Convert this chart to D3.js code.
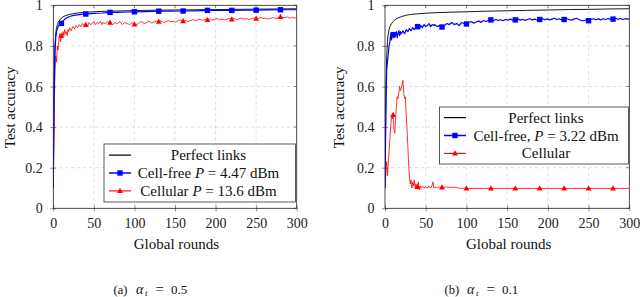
<!DOCTYPE html>
<html><head><meta charset="utf-8">
<script src="https://cdn.jsdelivr.net/npm/d3@7"></script>
<style>body{margin:0;background:#fff}svg{display:block}</style>
</head><body><svg id="c" width="640" height="297" font-family="Liberation Serif"></svg>
<script>
// ---------- DATA ----------
const xTicks = [0, 50, 100, 150, 200, 250, 300];
const yTicks = [0, 0.2, 0.4, 0.6, 0.8, 1];
const markerRounds = [10, 40, 70, 100, 130, 160, 190, 220, 250, 280];

// Panel (a)
const perfectA_x = [0,1,2,3,4,5,6,8,10,12,15,20,25,30,40,50,60,80,100,125,150,175,200,225,250,275,300];
const perfectA_y = [0.10,0.62,0.80,0.86,0.89,0.905,0.915,0.928,0.937,0.943,0.949,0.955,0.959,0.962,0.966,0.968,0.970,0.972,0.974,0.976,0.977,0.978,0.979,0.980,0.981,0.982,0.983];
const cellfreeA_x = [0,1,2,3,4,5,6,8,10,12,15,20,25,30,35,40,50,60,70,80,90,100,115,130,145,160,175,190,205,220,235,250,265,280,300];
const cellfreeA_y = [0.10,0.55,0.76,0.84,0.87,0.885,0.895,0.905,0.911,0.922,0.935,0.945,0.950,0.953,0.955,0.957,0.960,0.962,0.965,0.965,0.967,0.968,0.969,0.971,0.971,0.972,0.973,0.975,0.975,0.975,0.976,0.976,0.977,0.978,0.978];
const cellularA_x = [0,1,2,3,4,5,6,7,8,9,10,11,12,13,14,15,16,17,18,19,20,22,24,26,28,30,32,34,36,38,40,42,44,46,48,50,52,54,56,58,60,
  61,64,67,70,73,76,79,82,85,88,91,94,97,100,103,106,109,112,115,118,121,124,127,130,133,136,139,142,145,148,151,154,157,160,163,166,169,172,175,178,181,184,187,190,193,196,199,202,205,208,211,214,217,220,223,226,229,232,235,238,241,244,247,250,253,256,259,262,265,268,271,274,277,280,283,286,289,292,295,298,300];
const cellularA_y = [0.10,0.45,0.68,0.75,0.72,0.80,0.78,0.84,0.86,0.82,0.85,0.84,0.87,0.85,0.88,0.86,0.87,0.85,0.88,0.87,0.89,0.875,0.895,0.885,0.90,0.89,0.905,0.895,0.91,0.90,0.903,0.895,0.915,0.905,0.91,0.92,0.905,0.915,0.91,0.92,0.905,
  0.915,0.91,0.92,0.914,0.905,0.915,0.91,0.92,0.905,0.915,0.91,0.905,0.915,0.906,0.905,0.915,0.92,0.91,0.915,0.922,0.912,0.918,0.922,0.919,0.923,0.915,0.92,0.925,0.918,0.922,0.917,0.925,0.928,0.922,0.926,0.92,0.925,0.93,0.924,0.928,0.932,0.926,0.93,0.928,0.933,0.927,0.931,0.935,0.929,0.933,0.928,0.932,0.936,0.93,0.934,0.929,0.933,0.937,0.931,0.935,0.93,0.934,0.938,0.934,0.936,0.94,0.934,0.937,0.932,0.936,0.94,0.935,0.938,0.942,0.940,0.94,0.943,0.937,0.941,0.936,0.94];

// Panel (b)
const perfectB_x = [0,1,2,3,4,5,6,8,10,12,15,20,25,30,40,50,60,80,100,125,150,175,200,225,250,275,300];
const perfectB_y = [0.10,0.55,0.74,0.82,0.86,0.88,0.895,0.91,0.92,0.928,0.936,0.944,0.95,0.954,0.958,0.961,0.963,0.966,0.968,0.971,0.973,0.975,0.977,0.979,0.980,0.982,0.983];
const cellfreeB_x = [0,1,2,3,4,5,6,7,8,9,10,11,12,13,14,15,16,17,18,19,20,22,24,26,28,30,32,34,36,38,40,42,44,46,48,50,52,54,56,58,60,
  61,64,67,70,73,76,79,82,85,88,91,94,97,100,103,106,109,112,115,118,121,124,127,130,133,136,139,142,145,148,151,154,157,160,163,166,169,172,175,178,181,184,187,190,193,196,199,202,205,208,211,214,217,220,223,226,229,232,235,238,241,244,247,250,253,256,259,262,265,268,271,274,277,280,283,286,289,292,295,298,300];
const cellfreeB_y = [0.10,0.45,0.68,0.72,0.76,0.80,0.82,0.86,0.83,0.85,0.855,0.84,0.86,0.85,0.87,0.84,0.86,0.875,0.85,0.87,0.86,0.875,0.86,0.88,0.87,0.885,0.875,0.89,0.88,0.89,0.895,0.885,0.90,0.89,0.905,0.895,0.90,0.91,0.895,0.905,0.90,
  0.905,0.895,0.90,0.893,0.90,0.91,0.905,0.915,0.905,0.91,0.90,0.915,0.91,0.908,0.915,0.92,0.912,0.918,0.922,0.916,0.925,0.92,0.926,0.928,0.924,0.93,0.925,0.929,0.924,0.93,0.927,0.932,0.926,0.928,0.933,0.927,0.931,0.926,0.93,0.934,0.928,0.932,0.927,0.93,0.935,0.929,0.933,0.928,0.932,0.936,0.93,0.934,0.928,0.93,0.935,0.93,0.927,0.932,0.936,0.93,0.926,0.924,0.928,0.924,0.93,0.934,0.929,0.933,0.928,0.934,0.93,0.935,0.931,0.932,0.936,0.931,0.935,0.93,0.934,0.932,0.935];
const cellularB_x = [0,1,2,3,4,5,6,7,8,9,10,11,12,13,14,15,16,17,18,19,20,21,22,23,24,25,26,27,28,29,30,31,32,33,34,35,36,37,38,39,40,41,42,43,44,46,48,50,52,54,56,58,59,60,62,64,66,70,75,80,85,88,90,100,130,160,190,220,250,280,300];
const cellularB_y = [0.10,0.17,0.23,0.16,0.22,0.28,0.34,0.40,0.46,0.44,0.46,0.39,0.37,0.44,0.50,0.55,0.54,0.57,0.60,0.58,0.59,0.61,0.63,0.57,0.54,0.55,0.46,0.39,0.31,0.22,0.15,0.12,0.14,0.10,0.13,0.11,0.14,0.10,0.12,0.095,0.105,0.13,0.09,0.11,0.10,0.11,0.10,0.105,0.10,0.11,0.10,0.115,0.13,0.10,0.105,0.10,0.105,0.103,0.105,0.103,0.104,0.103,0.099,0.098,0.098,0.098,0.098,0.098,0.098,0.098,0.098];

const legendA = ["Perfect links", "Cell-free", "Cellular"];
const legendAPower = [null, "4.47", "13.6"];
const legendB = ["Perfect links", "Cell-free,", "Cellular"];
const legendBPower = [null, "3.22", null];
const captions = ["(a)", "(b)"];
const captionAlpha = ["0.5", "0.1"];

// ---------- DRAW ----------
const svg = d3.select("#c");
const SERIF = "Liberation Serif";
const FONT = 15, TICKFONT = 14;
const panels = [
  {left: 53.3, right: 296.7, series: [[perfectA_x, perfectA_y], [cellfreeA_x, cellfreeA_y], [cellularA_x, cellularA_y]],
   legendNames: legendA, legendPow: legendAPower, legBox: [104, 144, 295.5, 202], legLine: [109, 131], legText: 208.5, yTitleX: 14.5,
   cap: captions[0], alpha: captionAlpha[0], capX: 150.5},
  {left: 385, right: 629.3, series: [[perfectB_x, perfectB_y], [cellfreeB_x, cellfreeB_y], [cellularB_x, cellularB_y]],
   legendNames: legendB, legendPow: legendBPower, legBox: [439.5, 107, 628.5, 164], legLine: [444, 466], legText: 546, yTitleX: 343.5,
   cap: captions[1], alpha: captionAlpha[1], capX: 481.6}
];
const plotTop = 5.3, plotBottom = 208.3;
const styles = [
  {color: "#000", width: 0.9, marker: null},
  {color: "#0000ff", width: 1.2, marker: "square"},
  {color: "#ff0000", width: 0.8, marker: "triangle"}
];

function drawMarker(g, type, x, y, color) {
  if (type === "square") {
    g.append("rect").attr("x", x - 2.7).attr("y", y - 2.7).attr("width", 5.4).attr("height", 5.4).attr("fill", color);
  } else if (type === "triangle") {
    g.append("path").attr("d", `M${x},${y - 3.2}L${x + 2.9},${y + 2}L${x - 2.9},${y + 2}Z`).attr("fill", color);
  }
}

panels.forEach((p, pi) => {
  const x = d3.scaleLinear().domain([0, 300]).range([p.left, p.right]);
  const y = d3.scaleLinear().domain([0, 1]).range([plotBottom, plotTop]);
  const g = svg.append("g");

  // grid
  g.append("g").selectAll("line").data(xTicks.slice(1, -1)).join("line")
    .attr("x1", d => x(d)).attr("x2", d => x(d)).attr("y1", plotTop).attr("y2", plotBottom)
    .attr("stroke", "#c8c8c8").attr("stroke-width", 0.6).attr("stroke-dasharray", "3,3");
  g.append("g").selectAll("line").data(yTicks.slice(1, -1)).join("line")
    .attr("y1", d => y(d)).attr("y2", d => y(d)).attr("x1", p.left).attr("x2", p.right)
    .attr("stroke", "#c8c8c8").attr("stroke-width", 0.6).attr("stroke-dasharray", "3,3");

  // axes
  const xa = g.append("g").attr("transform", `translate(0,${plotBottom})`)
    .call(d3.axisBottom(x).tickValues(xTicks).tickSize(3).tickFormat(d3.format("d")));
  const ya = g.append("g").attr("transform", `translate(${p.left},0)`)
    .call(d3.axisLeft(y).tickValues(yTicks).tickSize(3).tickFormat(d => d === 0 || d === 1 ? String(d) : d.toFixed(1)));
  [xa, ya].forEach(a => {
    a.attr("font-family", SERIF);
    a.select(".domain").remove();
    a.selectAll("text").attr("font-size", TICKFONT).attr("font-family", SERIF).attr("fill", "#222");
    a.selectAll("line").attr("stroke", "#444").attr("stroke-width", 0.6);
  });
  xa.selectAll("text").attr("y", 20).attr("dy", null);
  ya.selectAll("text").attr("x", -10.5).attr("dy", "0.33em");
  ya.selectAll("line").attr("x2", 3).attr("x1", -3);
  xa.selectAll("line").attr("y1", -3).attr("y2", 3);
  g.append("g").selectAll("line").data(xTicks).join("line")
    .attr("x1", d => x(d)).attr("x2", d => x(d)).attr("y1", plotTop).attr("y2", plotTop + 3).attr("stroke", "#444").attr("stroke-width", 0.6);
  g.append("g").selectAll("line").data(yTicks).join("line")
    .attr("y1", d => y(d)).attr("y2", d => y(d)).attr("x1", p.right).attr("x2", p.right - 3).attr("stroke", "#444").attr("stroke-width", 0.6);

  // clip
  const clipId = "clip" + pi;
  svg.append("clipPath").attr("id", clipId).append("rect")
    .attr("x", p.left).attr("y", plotTop).attr("width", p.right - p.left).attr("height", plotBottom - plotTop);

  const lines = g.append("g").attr("clip-path", `url(#${clipId})`);
  [0, 2, 1].forEach(si => {
    const [xs, ys] = p.series[si];
    const st = styles[si];
    const pts = xs.map((v, i) => [v, ys[i]]);
    lines.append("path").datum(pts)
      .attr("d", d3.line().x(d => x(d[0])).y(d => y(d[1])))
      .attr("fill", "none").attr("stroke", st.color).attr("stroke-width", st.width).attr("stroke-linejoin", "round");
    if (st.marker) {
      const bis = d3.bisector(d => d[0]).left;
      markerRounds.forEach(r => {
        let i = bis(pts, r);
        if (i >= pts.length) i = pts.length - 1;
        if (i > 0 && Math.abs(pts[i - 1][0] - r) < Math.abs(pts[i][0] - r)) i = i - 1;
        drawMarker(lines, st.marker, x(pts[i][0]), y(pts[i][1]), st.color);
      });
    }
  });

  // frame
  g.append("rect").attr("x", p.left).attr("y", plotTop).attr("width", p.right - p.left).attr("height", plotBottom - plotTop)
    .attr("fill", "none").attr("stroke", "#222").attr("stroke-width", 0.8);

  // titles
  g.append("text").attr("x", (p.left + p.right) / 2 + 1.5).attr("y", 248.8).attr("text-anchor", "middle")
    .attr("font-family", SERIF).attr("font-size", FONT).attr("fill", "#111").text("Global rounds");
  g.append("text").attr("transform", `translate(${p.yTitleX},${(plotTop + plotBottom) / 2 + 0.5}) rotate(-90)`).attr("text-anchor", "middle")
    .attr("font-family", SERIF).attr("font-size", FONT).attr("fill", "#111").text("Test accuracy");

  // legend
  const [lx0, ly0, lx1, ly1] = p.legBox;
  const lg = g.append("g");
  lg.append("rect").attr("x", lx0).attr("y", ly0).attr("width", lx1 - lx0).attr("height", ly1 - ly0)
    .attr("fill", "#fff").attr("stroke", "#333").attr("stroke-width", 0.8);
  const rowGap = 17.9, midY = (ly0 + ly1) / 2;
  p.legendNames.forEach((name, i) => {
    const cy = midY + (i - 1) * rowGap;
    const st = styles[i];
    lg.append("line").attr("x1", p.legLine[0]).attr("x2", p.legLine[1]).attr("y1", cy).attr("y2", cy)
      .attr("stroke", st.color).attr("stroke-width", st.width + 0.3);
    if (st.marker) drawMarker(lg, st.marker, (p.legLine[0] + p.legLine[1]) / 2, cy, st.color);
    const t = lg.append("text").attr("x", p.legText).attr("y", cy + 5).attr("text-anchor", "middle")
      .attr("font-family", SERIF).attr("font-size", FONT).attr("fill", "#111");
    t.append("tspan").text(name);
    if (p.legendPow[i]) {
      t.append("tspan").text(" ");
      t.append("tspan").attr("font-style", "italic").text("P");
      t.append("tspan").text(" = " + p.legendPow[i] + " dBm");
    }
  });

  // caption
  const cx0 = p.capX - 37, cyb = 293.5;
  const ct = g.append("text").attr("y", cyb).attr("font-family", SERIF).attr("font-size", 12.5).attr("fill", "#111");
  ct.append("tspan").attr("x", cx0).text(p.cap);
  ct.append("tspan").attr("x", cx0 + 22.5).attr("font-style", "italic").attr("font-size", 14).text("α");
  ct.append("tspan").attr("x", cx0 + 31.5).attr("font-style", "italic").attr("font-size", 9).attr("dy", 2.5).text("t");
  ct.append("tspan").attr("x", cx0 + 42).attr("dy", -2.5).attr("font-size", 15).text("=");
  ct.append("tspan").attr("x", cx0 + 57.5).attr("font-size", 13).text(p.alpha);
});
</script></body></html>
